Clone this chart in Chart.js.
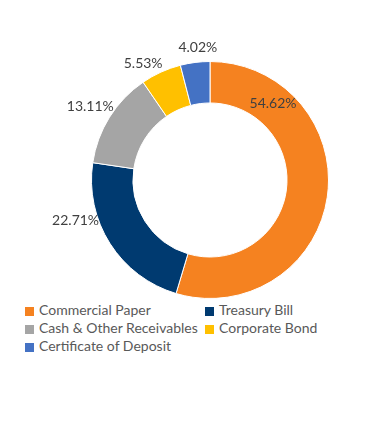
<!DOCTYPE html>
<html>
<head>
<meta charset="utf-8">
<script src="https://cdn.jsdelivr.net/npm/chart.js@4"></script>
<style>
    html, body { margin: 0; padding: 0; background: #fff; }
    #wrap { position: relative; width: 391px; height: 300px; }
    #legend { position: absolute; left: 25px; top: 301px; width: 360px;
        font-family: Lato, sans-serif; font-size: 14px; color: #595959; }
    .item { position: absolute; white-space: nowrap; line-height: 18px; }
    .box { display: inline-block; width: 9px; height: 9px; margin-right: 5px; vertical-align: -1px; }
</style>
</head>
<body>
<div id="wrap"><canvas id="donut"></canvas></div>
<div id="legend"></div>
<script>
const categories = ['Commercial Paper', 'Treasury Bill', 'Cash & Other Receivables', 'Corporate Bond', 'Certificate of Deposit'];
const shares = [54.62, 22.71, 13.11, 5.53, 4.02];
const colors = ['#F58220', '#003A70', '#A5A5A5', '#FFC000', '#4472C4'];

// where each % label sits: [fraction along the slice, px beyond the outer edge]
const labelPlace = [[0.2, -19], [0.69, 22], [0.49, 22], [0.23, 16], [0.64, 15]];

const pctLabels = {
    id: 'pctLabels',
    afterDatasetsDraw(chart) {
        const ctx = chart.ctx;
        const meta = chart.getDatasetMeta(0);
        ctx.save();
        ctx.font = '14px Lato, sans-serif';
        ctx.fillStyle = '#404040';
        ctx.textAlign = 'center';
        ctx.textBaseline = 'middle';
        meta.data.forEach((arc, i) => {
            const [f, off] = labelPlace[i];
            const a = arc.startAngle + (arc.endAngle - arc.startAngle) * f;
            const r = arc.outerRadius + off;
            ctx.fillText(shares[i].toFixed(2) + '%', arc.x + Math.cos(a) * r, arc.y + Math.sin(a) * r);
        });
        ctx.restore();
    }
};

new Chart(document.getElementById('donut'), {
    type: 'doughnut',
    data: {
        labels: categories,
        datasets: [{
            data: shares,
            backgroundColor: colors,
            borderColor: '#fff',
            borderWidth: 1
        }]
    },
    options: {
        responsive: true,
        maintainAspectRatio: false,
        animation: false,
        cutout: '65%',
        layout: { padding: { top: 61, bottom: 1, left: 29, right: 0 } },
        plugins: {
            legend: { display: false },
            tooltip: { enabled: false }
        }
    },
    plugins: [pctLabels]
});

// legend in two columns, like the source
const legend = document.getElementById('legend');
categories.forEach((name, i) => {
    const el = document.createElement('div');
    el.className = 'item';
    el.style.left = (i % 2 ? 180 : 0) + 'px';
    el.style.top = (Math.floor(i / 2) * 18) + 'px';
    el.innerHTML = '<span class="box" style="background:' + colors[i] + '"></span>' + name.replace('&', '&amp;');
    legend.appendChild(el);
});
</script>
</body>
</html>
